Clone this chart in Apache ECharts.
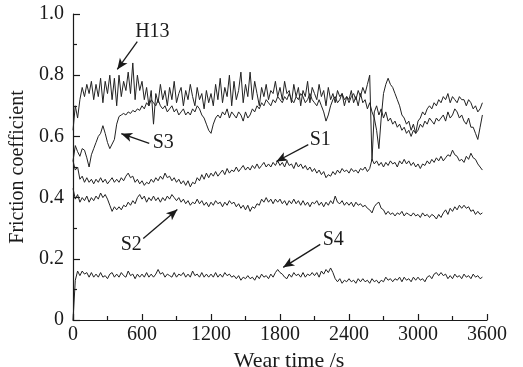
<!DOCTYPE html>
<html>
<head>
<meta charset="utf-8">
<script src="https://cdn.jsdelivr.net/npm/echarts@6/dist/echarts.min.js"></script>
<style>
  html, body { margin: 0; padding: 0; background: #fff; }
  #chart { width: 523px; height: 367px; }
</style>
</head>
<body>
<div id="chart"></div>
<script>
// sampling step of the curves, seconds
const STEP = 20;

const xTicks = [0, 600, 1200, 1800, 2400, 3000, 3600];

// friction coefficient, one value every 20 s (0 .. 3560 s)
const h13 = [
  0.62, 0.70, 0.66, 0.72, 0.76, 0.73, 0.77, 0.74, 0.78, 0.72,
  0.77, 0.73, 0.79, 0.71, 0.78, 0.74, 0.80, 0.72, 0.79, 0.70,
  0.80, 0.73, 0.78, 0.75, 0.81, 0.74, 0.84, 0.72, 0.80, 0.75,
  0.78, 0.72, 0.76, 0.70, 0.75, 0.64, 0.74, 0.71, 0.77, 0.72,
  0.75, 0.70, 0.76, 0.72, 0.78, 0.71, 0.74, 0.76, 0.70, 0.75,
  0.72, 0.77, 0.73, 0.70, 0.76, 0.72, 0.74, 0.69, 0.75, 0.71,
  0.74, 0.70, 0.77, 0.72, 0.79, 0.71, 0.76, 0.73, 0.80, 0.70,
  0.78, 0.72, 0.75, 0.81, 0.71, 0.77, 0.73, 0.81, 0.72, 0.78,
  0.74, 0.70, 0.76, 0.73, 0.77, 0.72, 0.75, 0.74, 0.78, 0.73,
  0.76, 0.72, 0.78, 0.74, 0.75, 0.71, 0.77, 0.73, 0.76, 0.70,
  0.75, 0.73, 0.78, 0.71, 0.76, 0.74, 0.72, 0.77, 0.73, 0.75,
  0.70, 0.76, 0.72, 0.74, 0.71, 0.75, 0.73, 0.74, 0.70, 0.73,
  0.72, 0.75, 0.71, 0.73, 0.70, 0.74, 0.71, 0.72, 0.69, 0.71,
  0.68, 0.66, 0.62, 0.56, 0.66, 0.74, 0.77, 0.79, 0.77, 0.76,
  0.74, 0.72, 0.70, 0.67, 0.66, 0.64, 0.65, 0.62, 0.64, 0.61,
  0.65, 0.66, 0.68, 0.67, 0.69, 0.70, 0.69, 0.71, 0.70, 0.72,
  0.71, 0.73, 0.72, 0.74, 0.71, 0.73, 0.72, 0.71, 0.73, 0.72,
  0.72, 0.70, 0.72, 0.71, 0.69, 0.70, 0.68, 0.69, 0.71
];

const s3 = [
  0.52, 0.57, 0.55, 0.535, 0.56, 0.555, 0.53, 0.50, 0.54, 0.56,
  0.58, 0.60, 0.61, 0.635, 0.61, 0.58, 0.56, 0.575, 0.59, 0.64,
  0.665, 0.67, 0.675, 0.67, 0.68, 0.675, 0.685, 0.68, 0.69, 0.685,
  0.70, 0.69, 0.71, 0.70, 0.72, 0.71, 0.70, 0.72, 0.70, 0.69,
  0.70, 0.68, 0.69, 0.70, 0.68, 0.69, 0.67, 0.68, 0.69, 0.67,
  0.68, 0.67, 0.69, 0.68, 0.70, 0.69, 0.67, 0.66, 0.64, 0.62,
  0.61, 0.64, 0.66, 0.67, 0.66, 0.68, 0.67, 0.69, 0.66, 0.68,
  0.67, 0.66, 0.68, 0.67, 0.65, 0.68, 0.66, 0.67, 0.69, 0.68,
  0.70, 0.69, 0.71, 0.70, 0.72, 0.71, 0.70, 0.72, 0.71, 0.73,
  0.72, 0.71, 0.73, 0.72, 0.74, 0.72, 0.71, 0.73, 0.72, 0.74,
  0.73, 0.71, 0.72, 0.74, 0.72, 0.71, 0.70, 0.72, 0.70, 0.68,
  0.65, 0.67, 0.70, 0.72, 0.73, 0.71, 0.72, 0.74, 0.72, 0.73,
  0.71, 0.73, 0.74, 0.72, 0.75, 0.73, 0.76, 0.74, 0.77, 0.80,
  0.52, 0.68, 0.70, 0.67, 0.69, 0.66, 0.68, 0.65, 0.66, 0.64,
  0.65, 0.63, 0.64, 0.62, 0.63, 0.61, 0.62, 0.60, 0.62, 0.61,
  0.62, 0.64, 0.63, 0.65, 0.64, 0.66, 0.65, 0.64, 0.66, 0.65,
  0.66, 0.67, 0.65, 0.68, 0.66, 0.67, 0.69, 0.68, 0.66, 0.67,
  0.65, 0.64, 0.66, 0.63, 0.63, 0.61, 0.59, 0.63, 0.67
];

const s1 = [
  0.52, 0.49, 0.50, 0.46, 0.47, 0.45, 0.465, 0.45, 0.46, 0.445,
  0.46, 0.45, 0.465, 0.45, 0.46, 0.445, 0.455, 0.465, 0.45, 0.46,
  0.45, 0.465, 0.455, 0.47, 0.48, 0.465, 0.47, 0.45, 0.46, 0.445,
  0.455, 0.44, 0.45, 0.445, 0.46, 0.45, 0.465, 0.455, 0.47, 0.46,
  0.48, 0.465, 0.47, 0.455, 0.465, 0.45, 0.46, 0.445, 0.455, 0.44,
  0.455, 0.435, 0.45, 0.445, 0.465, 0.455, 0.475, 0.46, 0.48, 0.465,
  0.48, 0.47, 0.485, 0.47, 0.48, 0.49, 0.475, 0.495, 0.48, 0.49,
  0.485, 0.50, 0.485, 0.495, 0.505, 0.49, 0.50, 0.49, 0.505, 0.495,
  0.51, 0.495, 0.505, 0.515, 0.50, 0.51, 0.50, 0.515, 0.505, 0.52,
  0.505, 0.515, 0.50, 0.52, 0.505, 0.51, 0.495, 0.515, 0.50, 0.51,
  0.495, 0.505, 0.49, 0.50, 0.485, 0.495, 0.48, 0.49, 0.475, 0.485,
  0.465, 0.475, 0.47, 0.485, 0.475, 0.49, 0.48, 0.495, 0.485, 0.49,
  0.48, 0.495, 0.485, 0.49, 0.48, 0.495, 0.49, 0.50, 0.485, 0.495,
  0.525, 0.51, 0.52, 0.505, 0.515, 0.50, 0.515, 0.505, 0.52, 0.51,
  0.515, 0.50, 0.52, 0.51, 0.525, 0.51, 0.52, 0.505, 0.515, 0.50,
  0.51, 0.495, 0.51, 0.505, 0.52, 0.51, 0.525, 0.515, 0.53, 0.52,
  0.535, 0.52, 0.53, 0.54, 0.535, 0.555, 0.54, 0.535, 0.52, 0.525,
  0.515, 0.535, 0.525, 0.545, 0.53, 0.525, 0.51, 0.50, 0.49
];

const s2 = [
  0.43, 0.395, 0.41, 0.385, 0.40, 0.39, 0.405, 0.385, 0.40, 0.39,
  0.405, 0.395, 0.415, 0.40, 0.41, 0.395, 0.375, 0.355, 0.37, 0.36,
  0.37, 0.36, 0.375, 0.37, 0.385, 0.375, 0.39, 0.38, 0.40, 0.41,
  0.395, 0.405, 0.385, 0.40, 0.39, 0.405, 0.39, 0.40, 0.385, 0.40,
  0.39, 0.405, 0.395, 0.41, 0.40, 0.39, 0.40, 0.385, 0.395, 0.38,
  0.39, 0.375, 0.385, 0.38, 0.395, 0.38, 0.39, 0.375, 0.385, 0.37,
  0.385, 0.375, 0.39, 0.38, 0.385, 0.37, 0.385, 0.375, 0.39, 0.38,
  0.385, 0.37, 0.38, 0.365, 0.375, 0.36, 0.375, 0.355, 0.37, 0.365,
  0.38, 0.375, 0.395, 0.385, 0.40, 0.385, 0.395, 0.38, 0.395, 0.385,
  0.395, 0.38, 0.39, 0.375, 0.39, 0.38, 0.395, 0.38, 0.39, 0.375,
  0.39, 0.375, 0.385, 0.37, 0.385, 0.38, 0.39, 0.375, 0.385, 0.37,
  0.385, 0.375, 0.39, 0.38, 0.405, 0.385, 0.38, 0.39, 0.375, 0.385,
  0.375, 0.385, 0.37, 0.385, 0.375, 0.38, 0.37, 0.375, 0.365, 0.36,
  0.35, 0.37, 0.38, 0.385, 0.365, 0.36, 0.345, 0.355, 0.345, 0.35,
  0.34, 0.35, 0.345, 0.355, 0.34, 0.35, 0.345, 0.34, 0.35, 0.34,
  0.345, 0.335, 0.35, 0.34, 0.345, 0.335, 0.345, 0.34, 0.33, 0.345,
  0.335, 0.35, 0.36, 0.345, 0.365, 0.355, 0.37, 0.36, 0.375, 0.365,
  0.375, 0.365, 0.37, 0.355, 0.36, 0.345, 0.355, 0.345, 0.35
];

const s4 = [
  0.0, 0.13, 0.16, 0.145, 0.16, 0.15, 0.155, 0.14, 0.155, 0.14,
  0.15, 0.14, 0.155, 0.14, 0.145, 0.135, 0.15, 0.155, 0.14, 0.15,
  0.14, 0.155, 0.145, 0.14, 0.16, 0.145, 0.15, 0.135, 0.15, 0.14,
  0.15, 0.14, 0.155, 0.14, 0.15, 0.14, 0.15, 0.165, 0.15, 0.155,
  0.14, 0.15, 0.145, 0.14, 0.155, 0.14, 0.15, 0.145, 0.155, 0.14,
  0.15, 0.14, 0.16, 0.145, 0.15, 0.14, 0.155, 0.14, 0.15, 0.14,
  0.15, 0.14, 0.155, 0.14, 0.15, 0.14, 0.155, 0.145, 0.15, 0.14,
  0.145, 0.135, 0.145, 0.13, 0.14, 0.135, 0.145, 0.135, 0.14, 0.13,
  0.145, 0.135, 0.15, 0.14, 0.145, 0.135, 0.15, 0.14, 0.155, 0.165,
  0.155, 0.15, 0.14, 0.135, 0.15, 0.14, 0.155, 0.145, 0.15, 0.14,
  0.155, 0.14, 0.15, 0.145, 0.155, 0.145, 0.155, 0.14, 0.16, 0.15,
  0.165, 0.155, 0.17, 0.155, 0.135, 0.125, 0.135, 0.12, 0.13, 0.125,
  0.135, 0.125, 0.13, 0.12, 0.135, 0.125, 0.135, 0.125, 0.13, 0.12,
  0.135, 0.125, 0.13, 0.12, 0.13, 0.125, 0.14, 0.13, 0.135, 0.125,
  0.135, 0.13, 0.14, 0.125, 0.14, 0.13, 0.135, 0.125, 0.14, 0.13,
  0.14, 0.13, 0.135, 0.125, 0.14, 0.145, 0.135, 0.15, 0.155, 0.145,
  0.155, 0.145, 0.15, 0.135, 0.145, 0.135, 0.15, 0.14, 0.145, 0.135,
  0.15, 0.14, 0.145, 0.135, 0.15, 0.14, 0.145, 0.135, 0.14
];

// labels and arrows, in data coordinates [time, coefficient]
const labels = [
  { name: 'H13', at: [690, 0.943] },
  { name: 'S3', at: [785, 0.580] },
  { name: 'S1', at: [2150, 0.588] },
  { name: 'S2', at: [507, 0.247] },
  { name: 'S4', at: [2263, 0.262] }
];
const arrows = [
  [[559, 0.910], [385, 0.819]],
  [[663, 0.577], [420, 0.609]],
  [[2046, 0.573], [1768, 0.518]],
  [[611, 0.266], [907, 0.361]],
  [[2150, 0.247], [1828, 0.172]]
];

const FONT = 'Liberation Serif';
const INK = '#1a1a1a';

function toPairs(vals) {
  return vals.map((v, i) => [i * STEP, v]);
}

const chart = echarts.init(document.getElementById('chart'), null, { renderer: 'canvas' });

const lineSeries = (name, vals) => ({
  name: name,
  type: 'line',
  data: toPairs(vals),
  showSymbol: false,
  smooth: false,
  lineStyle: { color: '#222', width: 1 },
  z: 2
});

const option = {
  animation: false,
  backgroundColor: '#fff',
  grid: { left: 73, right: 36, top: 14, bottom: 47, outerBoundsMode: 'none' },
  xAxis: {
    type: 'value',
    min: 0,
    max: 3600,
    interval: 600,
    name: 'Wear time /s',
    nameLocation: 'middle',
    nameGap: 28,
    nameTextStyle: { fontFamily: FONT, fontSize: 22, color: INK, padding: [0, 0, 0, 18] },
    axisLine: { show: true, lineStyle: { color: INK, width: 1.2 } },
    axisTick: { show: true, inside: true, length: 6, lineStyle: { color: INK, width: 1.2 } },
    minorTick: { show: true, splitNumber: 2, length: 4, lineStyle: { color: INK, width: 1.2 } },
    axisLabel: {
      fontFamily: FONT, fontSize: 20, color: INK, margin: 5,
      formatter: v => (xTicks.indexOf(v) >= 0 ? String(v) : '')
    },
    splitLine: { show: false }
  },
  yAxis: {
    type: 'value',
    min: 0,
    max: 1,
    interval: 0.2,
    name: 'Friction coefficient',
    nameLocation: 'middle',
    nameGap: 42,
    nameTextStyle: { fontFamily: FONT, fontSize: 20, color: INK },
    axisLine: { show: true, lineStyle: { color: INK, width: 1.2 } },
    axisTick: { show: true, inside: true, length: 7, lineStyle: { color: INK, width: 1.2 } },
    minorTick: { show: true, splitNumber: 2, length: 4, lineStyle: { color: INK, width: 1.2 } },
    axisLabel: {
      fontFamily: FONT, fontSize: 20, color: INK, margin: 9,
      formatter: v => (v === 0 ? '0' : v.toFixed(1))
    },
    splitLine: { show: false }
  },
  series: [
    lineSeries('H13', h13),
    lineSeries('S3', s3),
    lineSeries('S1', s1),
    lineSeries('S2', s2),
    Object.assign(lineSeries('S4', s4), {
      markLine: {
        silent: true,
        symbol: ['none', 'arrow'],
        symbolSize: [7, 11],
        lineStyle: { color: INK, width: 1.3, type: 'solid' },
        label: { show: false },
        data: arrows.map(a => [{ coord: a[0] }, { coord: a[1] }])
      },
      markPoint: {
        silent: true,
        symbol: 'circle',
        symbolSize: 1,
        itemStyle: { color: 'rgba(0,0,0,0)' },
        label: {
          show: true, position: 'inside', formatter: '{b}',
          fontFamily: FONT, fontSize: 20, color: INK
        },
        data: labels.map(l => ({ name: l.name, coord: l.at }))
      }
    })
  ]
};

chart.setOption(option);
</script>
</body>
</html>
